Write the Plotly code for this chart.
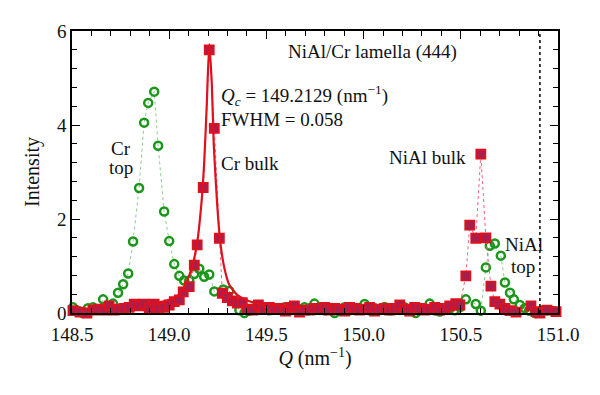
import plotly.graph_objects as go

# ---- data ----
bulk_q = [148.505, 148.541, 148.577, 148.608, 148.634, 148.665, 148.691, 148.716, 148.742, 148.768,
          148.794, 148.820, 148.845, 148.871, 148.897, 148.923, 148.948, 148.974, 149.000, 149.026,
          149.052, 149.072, 149.103, 149.129, 149.144, 149.175, 149.206, 149.232, 149.258, 149.273,
          149.299, 149.325, 149.351, 149.376, 149.402, 149.428, 149.459, 149.485, 149.515, 149.541,
          149.567, 149.598, 149.624, 149.644, 149.670, 149.696, 149.722, 149.747, 149.773, 149.799,
          149.825, 149.851, 149.876, 149.902, 149.928, 149.954, 149.979, 150.005, 150.031, 150.057,
          150.082, 150.108, 150.134, 150.160, 150.186, 150.211, 150.237, 150.263, 150.289, 150.314,
          150.340, 150.366, 150.392, 150.418, 150.443, 150.474, 150.495, 150.526, 150.546, 150.577,
          150.603, 150.629, 150.655, 150.675, 150.701, 150.727, 150.753, 150.784, 150.861, 150.887,
          150.907, 150.943, 150.990]
bulk_i = [0.05, 0.02, 0.00, 0.06, 0.08, 0.06, 0.15, 0.06, 0.08, 0.10,
          0.12, 0.19, 0.15, 0.19, 0.10, 0.19, 0.09, 0.12, 0.17, 0.24,
          0.28, 0.45, 0.56, 1.02, 1.45, 2.67, 5.60, 3.93, 1.59, 0.42,
          0.33, 0.26, 0.21, 0.22, 0.08, 0.06, 0.17, 0.08, 0.12, 0.08,
          0.10, 0.04, 0.12, 0.15, 0.02, 0.06, 0.06, 0.10, 0.08, 0.12,
          0.06, 0.10, 0.08, 0.04, 0.12, 0.10, 0.06, 0.08, 0.12, 0.04,
          0.08, 0.10, 0.06, 0.10, 0.17, 0.08, 0.04, 0.12, 0.10, 0.06,
          0.08, 0.12, 0.06, 0.10, 0.15, 0.20, 0.17, 0.79, 1.87, 1.59,
          3.38, 1.60, 0.57, 0.24, 0.19, 0.10, 0.05, 0.02, 0.15, 0.03,
          0.00, 0.06, 0.03]

top_q = [148.505, 148.531, 148.557, 148.582, 148.608, 148.634, 148.660, 148.686, 148.711, 148.737,
         148.763, 148.789, 148.814, 148.845, 148.871, 148.892, 148.923, 148.943, 148.974, 149.000,
         149.026, 149.052, 149.077, 149.103, 149.129, 149.155, 149.180, 149.206, 149.232, 149.278,
         149.309, 149.335, 149.361, 149.387, 149.412, 149.438, 149.464, 149.490, 149.515, 149.541,
         149.567, 149.593, 149.619, 149.644, 149.670, 149.696, 149.722, 149.747, 149.773, 149.799,
         149.825, 149.851, 149.876, 149.902, 149.928, 149.954, 149.979, 150.005, 150.031, 150.057,
         150.082, 150.108, 150.134, 150.160, 150.186, 150.211, 150.237, 150.268, 150.289, 150.314,
         150.340, 150.366, 150.392, 150.418, 150.443, 150.469, 150.495, 150.526, 150.577, 150.603,
         150.629, 150.649, 150.675, 150.706, 150.727, 150.753, 150.773, 150.804, 150.830, 150.851,
         150.881, 150.912, 150.943, 150.974]
top_i = [0.12, 0.05, 0.00, 0.10, 0.12, 0.08, 0.29, 0.15, 0.20, 0.43,
         0.61, 0.84, 1.52, 2.66, 4.05, 4.47, 4.71, 3.56, 2.16, 1.53,
         1.04, 0.79, 0.69, 0.69, 0.83, 0.94, 0.77, 0.82, 0.46, 0.50,
         0.47, 0.25, 0.06, 0.00, 0.05, 0.10, 0.08, 0.12, 0.06, 0.10,
         0.08, 0.12, 0.06, 0.10, 0.08, 0.12, 0.10, 0.20, 0.08, 0.06,
         0.10, 0.00, 0.08, 0.12, 0.06, 0.10, 0.08, 0.19, 0.06, 0.10,
         0.08, 0.13, 0.06, 0.10, 0.08, 0.12, 0.06, 0.00, 0.10, 0.08,
         0.20, 0.06, 0.03, 0.08, 0.10, 0.06, 0.12, 0.29, 0.19, 0.05,
         0.97, 1.43, 1.48, 1.22, 0.65, 0.43, 0.29, 0.17, 0.10, 0.05,
         0.00, 0.05, 0.06, 0.04]

# fitted curve through the Cr bulk peak
fit_q = [148.90, 149.00, 149.052, 149.088, 149.119, 149.144, 149.165, 149.180, 149.193, 149.206,
         149.219, 149.229, 149.247, 149.263, 149.284, 149.309, 149.351, 149.412, 149.515, 149.670]
fit_i = [0.19, 0.28, 0.40, 0.65, 1.00, 1.50, 2.30, 3.20, 4.40, 5.72,
         4.90, 3.60, 2.30, 1.50, 0.95, 0.60, 0.38, 0.25, 0.17, 0.13]

marker_q = 150.907
x_ticks = [148.5, 149.0, 149.5, 150.0, 150.5, 151.0]
x_tick_text = ["148.5", "149.0", "149.5", "150.0", "150.5", "151.0"]
y_ticks = [0, 2, 4, 6]

FONT = "Liberation Serif"
RED = "#e0101c"
RED_FILL = "#a81e4e"
GREEN = "#1a961a"

fig = go.Figure()

fig.add_trace(go.Scatter(
    x=top_q, y=top_i, mode="lines+markers",
    line=dict(color="#8ccc8c", width=1, dash="dot"),
    marker=dict(symbol="circle-open", size=8, color=GREEN, line=dict(width=2.5, color=GREEN)),
    cliponaxis=False, showlegend=False))

fig.add_trace(go.Scatter(
    x=bulk_q, y=bulk_i, mode="lines+markers",
    line=dict(color="#e86878", width=1, dash="dot"),
    marker=dict(symbol="square", size=9, color=RED_FILL, line=dict(width=1.8, color=RED)),
    cliponaxis=False, showlegend=False))

fig.add_trace(go.Scatter(
    x=fit_q, y=fit_i, mode="lines",
    line=dict(color=RED, width=2.2, shape="spline", smoothing=0.6),
    showlegend=False))

fig.add_shape(type="line", x0=marker_q, x1=marker_q, y0=0, y1=6, xref="x", yref="y",
              line=dict(color="black", width=1.5, dash="dot"))

ann_font = dict(family=FONT, size=19, color="#111")
anns = [
    dict(x=149.600, y=5.55, text="NiAl/Cr lamella (444)", xanchor="left"),
    dict(x=149.258, y=4.62, text="<i>Q</i><sub><i>c</i></sub> = 149.2129 (nm<sup>−1</sup>)", xanchor="left"),
    dict(x=149.258, y=4.11, text="FWHM = 0.058", xanchor="left"),
    dict(x=149.255, y=3.19, text="Cr bulk", xanchor="left"),
    dict(x=148.753, y=3.51, text="Cr", xanchor="center"),
    dict(x=148.753, y=3.09, text="top", xanchor="center"),
    dict(x=150.120, y=3.30, text="NiAl bulk", xanchor="left"),
    dict(x=150.716, y=1.45, text="NiAl", xanchor="left"),
    dict(x=150.818, y=0.98, text="top", xanchor="center"),
]
for a in anns:
    fig.add_annotation(xref="x", yref="y", showarrow=False, yanchor="middle",
                       font=ann_font, **a)

axis_common = dict(showline=True, linecolor="black", linewidth=1.5, mirror="ticks",
                   ticks="inside", tickcolor="black", tickwidth=1.2, showgrid=False,
                   zeroline=False, automargin=False,
                   tickfont=dict(family=FONT, size=19, color="#111"))

fig.update_xaxes(range=[148.5, 151.0], tickvals=x_ticks, ticktext=x_tick_text, ticklen=8,
                 ticklabelstandoff=3,
                 minor=dict(dtick=0.1, ticks="inside", ticklen=5, tickcolor="black", tickwidth=1.2),
                 title=dict(text="<i>Q</i> (nm<sup>−1</sup>)", font=dict(family=FONT, size=20, color="#111"),
                            standoff=6),
                 **axis_common)
fig.update_yaxes(range=[0, 6], tickvals=y_ticks, ticklen=8,
                 minor=dict(dtick=0.4, ticks="inside", ticklen=5, tickcolor="black", tickwidth=1.2),
                 title=dict(text="Intensity", font=dict(family=FONT, size=20, color="#111"), standoff=12),
                 **axis_common)

# page has an 8px body margin; offsets compensate so the plot area sits at x 72-558, y 31-313
fig.update_layout(width=600, height=395, margin=dict(l=64, r=50, t=23, b=90),
                  plot_bgcolor="white", paper_bgcolor="white", showlegend=False)

fig.write_html("out.html")
